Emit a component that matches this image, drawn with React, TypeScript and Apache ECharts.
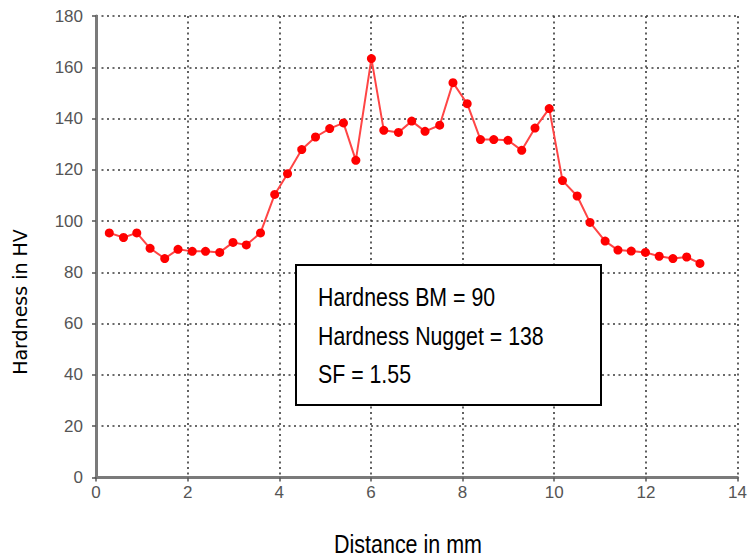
import React, { useEffect, useRef } from "react";
import * as echarts from "echarts";

const distanceMm = [
  0.29, 0.6, 0.89, 1.18, 1.5, 1.79, 2.1, 2.39, 2.7, 2.99, 3.28, 3.59, 3.9, 4.18, 4.49,
  4.79, 5.1, 5.4, 5.67, 6.01, 6.28, 6.6, 6.89, 7.18, 7.5, 7.79, 8.1, 8.39, 8.68, 8.99,
  9.29, 9.58, 9.89, 10.18, 10.5, 10.78, 11.11, 11.39, 11.68, 11.99, 12.29, 12.59, 12.89, 13.18,
];
const hardnessHV = [
  95.4, 93.6, 95.4, 89.4, 85.4, 89.0, 88.2, 88.2, 87.8, 91.7, 90.7, 95.4, 110.4, 118.5, 127.9,
  132.8, 136.1, 138.3, 123.7, 163.4, 135.4, 134.6, 139.0, 135.0, 137.4, 154.0, 145.8, 131.8, 131.8, 131.5,
  127.6, 136.3, 143.9, 115.8, 109.8, 99.5, 92.2, 88.7, 88.3, 87.8, 86.3, 85.4, 86.0, 83.5,
];
const boxLines = ["Hardness BM = 90", "Hardness Nugget = 138", "SF = 1.55"];
const xTitle = "Distance in mm";
const yTitle = "Hardness in HV";

export default function App() {
  const ref = useRef<HTMLDivElement>(null);
  useEffect(() => {
    if (!ref.current) return;
    const chart = echarts.init(ref.current, null, { renderer: "svg" });
    const data = distanceMm.map((x, i) => [x, hardnessHV[i]]);
    const split = { show: true, lineStyle: { color: "#3a3a3a", width: 1.6, type: [2, 3.5] as any } };
    const axisLine = { show: true, onZero: false, lineStyle: { color: "#7a7a7a", width: 3 } };
    const axisTick = { show: true, length: 4, lineStyle: { color: "#555", width: 1.5 } };
    const labelStyle = { color: "#555", fontSize: 17, fontFamily: "'Liberation Sans', Arial, sans-serif" };
    chart.setOption({
      animation: false,
      backgroundColor: "#fff",
      grid: { left: 96, right: 9, top: 16, bottom: 79.5 },
      xAxis: {
        type: "value",
        min: 0,
        max: 14,
        interval: 2,
        axisLine,
        axisTick,
        splitLine: split,
        axisLabel: { ...labelStyle, margin: 6 },
      },
      yAxis: {
        type: "value",
        min: 0,
        max: 180,
        interval: 20,
        axisLine,
        axisTick,
        splitLine: split,
        axisLabel: { ...labelStyle, margin: 13 },
      },
      series: [
        {
          type: "line",
          data,
          symbol: "circle",
          symbolSize: 9,
          itemStyle: { color: "#ff0000" },
          lineStyle: { color: "#ff4545", width: 2 },
          z: 3,
        },
      ],
      graphic: [
        {
          type: "text",
          x: 20,
          y: 302,
          rotation: Math.PI / 2,
          style: {
            text: yTitle,
            fill: "#000",
            fontSize: 19,
            fontFamily: "'DejaVu Sans', sans-serif",
            align: "center",
            verticalAlign: "middle",
          },
        },
        {
          type: "text",
          x: 408,
          y: 544,
          scaleX: 0.86,
          style: {
            text: xTitle,
            fill: "#000",
            fontSize: 25,
            fontFamily: "'Liberation Sans', Arial, sans-serif",
            align: "center",
            verticalAlign: "middle",
          },
        },
        {
          type: "rect",
          shape: { x: 296, y: 265, width: 305, height: 140 },
          style: { fill: "#fff", stroke: "#000", lineWidth: 2 },
          z: 100,
        },
        ...boxLines.map((t, i) => ({
          type: "text",
          x: 318,
          y: 297 + i * 38.5,
          z: 101,
          scaleX: 0.82,
          style: {
            text: t,
            fill: "#000",
            fontSize: 26,
            fontFamily: "'Liberation Sans', Arial, sans-serif",
            align: "left",
            verticalAlign: "middle",
          },
        })),
      ],
    });
    return () => chart.dispose();
  }, []);
  return (
    <div
      ref={ref}
      style={{ position: "absolute", left: 0, top: 0, width: 750, height: 557 }}
    />
  );
}
